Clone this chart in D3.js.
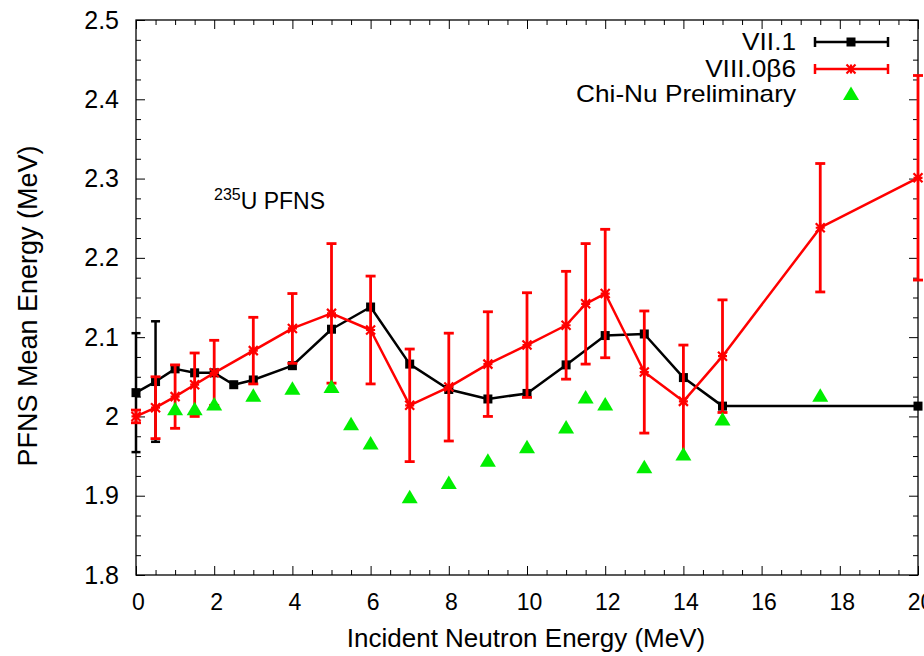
<!DOCTYPE html>
<html>
<head>
<meta charset="utf-8">
<script src="https://cdn.jsdelivr.net/npm/d3@7"></script>
<style>
  html, body { margin: 0; padding: 0; background: #fff; }
  svg { display: block; }
  text { font-family: "Liberation Sans", Arial, Helvetica, sans-serif; fill: #000; }
</style>
</head>
<body>
<svg id="chart" width="924" height="656"></svg>
<script>
// ---------------- data ----------------
const vii1X   = [0, 0.5, 1, 1.5, 2, 2.5, 3, 4, 5, 6, 7, 8, 9, 10, 11, 12, 13, 14, 15, 20];
const vii1Y   = [2.030, 2.044, 2.060, 2.055, 2.055, 2.040, 2.046, 2.064, 2.110, 2.138, 2.066, 2.034, 2.022, 2.029, 2.065, 2.102, 2.104, 2.049, 2.013, 2.013];
const vii1Err = [0.075, 0.076, 0, 0, 0, 0, 0, 0, 0, 0, 0, 0, 0, 0, 0, 0, 0, 0, 0, 0];

const viii0X   = [0, 0.5, 1, 1.5, 2, 3, 4, 5, 6, 7, 8, 9, 10, 11, 11.5, 12, 13, 14, 15, 17.5, 20];
const viii0Y   = [2.000, 2.011, 2.025, 2.040, 2.055, 2.083, 2.111, 2.130, 2.109, 2.014, 2.037, 2.066, 2.090, 2.115, 2.142, 2.155, 2.056, 2.019, 2.076, 2.238, 2.301];
const viii0Err = [0.008, 0.039, 0.040, 0.040, 0.041, 0.042, 0.044, 0.088, 0.068, 0.071, 0.068, 0.066, 0.066, 0.068, 0.076, 0.081, 0.077, 0.071, 0.071, 0.081, 0.129];

const chiNuX = [1, 1.5, 2, 3, 4, 5, 5.5, 6, 7, 8, 9, 10, 11, 11.5, 12, 13, 14, 15, 17.5];
const chiNuY = [2.009, 2.009, 2.015, 2.026, 2.035, 2.037, 1.990, 1.966, 1.898, 1.916, 1.944, 1.961, 1.986, 2.024, 2.015, 1.936, 1.952, 1.996, 2.026];

const xTicks = [0, 2, 4, 6, 8, 10, 12, 14, 16, 18, 20];
const xTickLabels = ["0", "2", "4", "6", "8", "10", "12", "14", "16", "18", "20"];
const yTicks = [1.8, 1.9, 2.0, 2.1, 2.2, 2.3, 2.4, 2.5];
const yTickLabels = ["1.8", "1.9", "2", "2.1", "2.2", "2.3", "2.4", "2.5"];

const seriesNames = ["VII.1", "VIII.0\u03B26", "Chi-Nu Preliminary"];
const xTitle = "Incident Neutron Energy (MeV)";
const yTitle = "PFNS Mean Energy (MeV)";

// ---------------- layout ----------------
const svg = d3.select("#chart");
const L = 136, R = 918, T = 20, B = 575;
const W = R - L, H = B - T;

const x = d3.scaleLinear().domain([0, 20]).range([L, R]);
const y = d3.scaleLinear().domain([1.8, 2.5]).range([B, T]);

const RED = "#ff0000", GREEN = "#00ee00", BLACK = "#000000";

// minor tick values
const xMinor = d3.range(0, 20.001, 0.5).filter(v => Math.abs(v / 2 - Math.round(v / 2)) > 1e-6);
const yMinor = d3.range(1.8, 2.5001, 0.025).filter(v => Math.abs(v * 10 - Math.round(v * 10)) > 1e-6);

function styleAxis(g) {
  g.select(".domain").remove();
  g.selectAll(".tick line").attr("stroke", "#000").attr("stroke-width", 1);
}

// bottom axis with labels
const gx = svg.append("g").attr("transform", `translate(0,${B})`)
  .call(d3.axisBottom(x).tickValues(xTicks).tickSize(-9).tickPadding(19)
    .tickFormat((d, i) => xTickLabels[i]));
styleAxis(gx);
gx.selectAll("text").attr("font-size", 23).attr("font-family", "Liberation Sans, Arial, sans-serif")
  .attr("dx", 2);
svg.append("g").attr("transform", `translate(0,${B})`)
  .call(d3.axisBottom(x).tickValues(xMinor).tickSize(-5).tickFormat("")).call(styleAxis);
// top axis
svg.append("g").attr("transform", `translate(0,${T})`)
  .call(d3.axisTop(x).tickValues(xTicks).tickSize(-9).tickFormat("")).call(styleAxis);
svg.append("g").attr("transform", `translate(0,${T})`)
  .call(d3.axisTop(x).tickValues(xMinor).tickSize(-5).tickFormat("")).call(styleAxis);

// left axis with labels
const gy = svg.append("g").attr("transform", `translate(${L},0)`)
  .call(d3.axisLeft(y).tickValues(yTicks).tickSize(-9).tickPadding(17)
    .tickFormat((d, i) => yTickLabels[i]));
styleAxis(gy);
gy.selectAll("text").attr("font-size", 25).attr("font-family", "Liberation Sans, Arial, sans-serif");
svg.append("g").attr("transform", `translate(${L},0)`)
  .call(d3.axisLeft(y).tickValues(yMinor).tickSize(-5).tickFormat("")).call(styleAxis);
// right axis
svg.append("g").attr("transform", `translate(${R},0)`)
  .call(d3.axisRight(y).tickValues(yTicks).tickSize(-9).tickFormat("")).call(styleAxis);
svg.append("g").attr("transform", `translate(${R},0)`)
  .call(d3.axisRight(y).tickValues(yMinor).tickSize(-5).tickFormat("")).call(styleAxis);

// frame
svg.append("rect").attr("x", L).attr("y", T).attr("width", W).attr("height", H)
  .attr("fill", "none").attr("stroke", "#000").attr("stroke-width", 1.3);

// axis titles
svg.append("text").attr("x", (L + R) / 2 - 1).attr("y", 647)
  .attr("text-anchor", "middle").attr("font-size", 26).text(xTitle);
svg.append("text").attr("transform", `translate(37,306) rotate(-90)`)
  .attr("text-anchor", "middle").attr("font-size", 27).text(yTitle);

// annotation 235U PFNS
const ann = svg.append("text").attr("x", 214).attr("y", 209).attr("font-size", 23);
ann.append("tspan").attr("font-size", 16).attr("dy", -9).text("235");
ann.append("tspan").attr("dy", 9).text("U PFNS");

// ---------------- helpers ----------------
function errorBars(g, xs, ys, es, color, width, cap) {
  xs.forEach((xv, i) => {
    const e = es[i];
    if (!e) return;
    const cx = x(xv), y1 = y(ys[i] - e), y2 = y(ys[i] + e);
    g.append("line").attr("x1", cx).attr("x2", cx).attr("y1", y1).attr("y2", y2)
      .attr("stroke", color).attr("stroke-width", width);
    [y1, y2].forEach(yy => g.append("line").attr("x1", cx - cap / 2).attr("x2", cx + cap / 2)
      .attr("y1", yy).attr("y2", yy).attr("stroke", color).attr("stroke-width", width));
  });
}
function star(g, cx, cy, s, color) {
  const h = s / 2;
  const p = `M${cx - h},${cy}L${cx + h},${cy}M${cx},${cy - h}L${cx},${cy + h}` +
            `M${cx - h},${cy - h}L${cx + h},${cy + h}M${cx - h},${cy + h}L${cx + h},${cy - h}`;
  g.append("path").attr("d", p).attr("stroke", color).attr("stroke-width", 2.2).attr("fill", "none");
}
function square(g, cx, cy, s, color) {
  g.append("rect").attr("x", cx - s / 2).attr("y", cy - s / 2).attr("width", s).attr("height", s).attr("fill", color);
}
function triangle(g, cx, cy, color) {
  g.append("path").attr("d", `M${cx},${cy - 7.5}L${cx + 8},${cy + 6}L${cx - 8},${cy + 6}Z`).attr("fill", color);
}

const line = d3.line().x(d => x(d[0])).y(d => y(d[1]));

// ---------------- VII.1 (black) ----------------
const gB = svg.append("g");
errorBars(gB, vii1X, vii1Y, vii1Err, BLACK, 2.5, 9);
gB.append("path").datum(vii1X.map((v, i) => [v, vii1Y[i]])).attr("d", line)
  .attr("fill", "none").attr("stroke", BLACK).attr("stroke-width", 2.5).attr("stroke-linejoin", "round");
vii1X.forEach((v, i) => square(gB, x(v), y(vii1Y[i]), 9, BLACK));

// ---------------- VIII.0b6 (red) ----------------
const gR = svg.append("g");
errorBars(gR, viii0X, viii0Y, viii0Err, RED, 2.8, 10);
gR.append("path").datum(viii0X.map((v, i) => [v, viii0Y[i]])).attr("d", line)
  .attr("fill", "none").attr("stroke", RED).attr("stroke-width", 2.5).attr("stroke-linejoin", "round");
viii0X.forEach((v, i) => star(gR, x(v), y(viii0Y[i]), 9, RED));

// ---------------- Chi-Nu (green) ----------------
const gG = svg.append("g");
chiNuX.forEach((v, i) => triangle(gG, x(v), y(chiNuY[i]), GREEN));

// ---------------- legend ----------------
const lg = svg.append("g");
const legY = [42, 69, 94];
const lx1 = 815, lx2 = 888, lxm = 851;
seriesNames.forEach((name, i) => {
  lg.append("text").attr("transform", `translate(796,${legY[i] + 8}) scale(1.14,1)`)
    .attr("text-anchor", "end").attr("font-size", 23).text(name);
});
// VII.1 sample
lg.append("line").attr("x1", lx1).attr("x2", lx2).attr("y1", legY[0]).attr("y2", legY[0]).attr("stroke", BLACK).attr("stroke-width", 2.5);
[lx1, lx2].forEach(xx => lg.append("line").attr("x1", xx).attr("x2", xx).attr("y1", legY[0] - 5).attr("y2", legY[0] + 5).attr("stroke", BLACK).attr("stroke-width", 2.5));
square(lg, lxm, legY[0], 9, BLACK);
// VIII sample
lg.append("line").attr("x1", lx1).attr("x2", lx2).attr("y1", legY[1]).attr("y2", legY[1]).attr("stroke", RED).attr("stroke-width", 2.5);
[lx1, lx2].forEach(xx => lg.append("line").attr("x1", xx).attr("x2", xx).attr("y1", legY[1] - 5).attr("y2", legY[1] + 5).attr("stroke", RED).attr("stroke-width", 2.5));
star(lg, lxm, legY[1], 9, RED);
// Chi-Nu sample
triangle(lg, lxm, legY[2], GREEN);
</script>
</body>
</html>
